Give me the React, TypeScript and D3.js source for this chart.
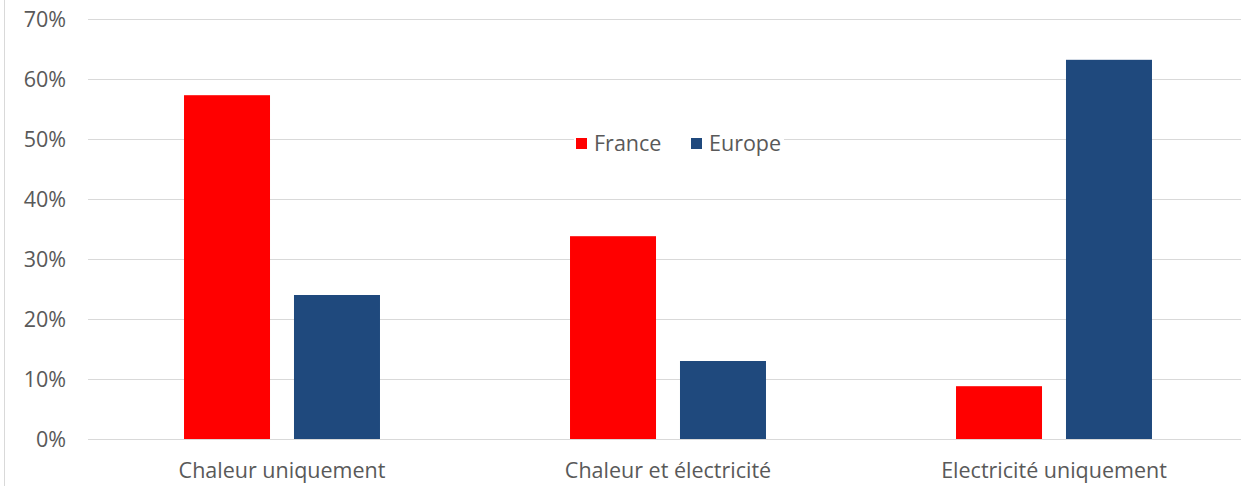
import React, { useEffect, useRef } from 'react';
import * as d3 from 'd3';

const categories = ['Chaleur uniquement', 'Chaleur et électricité', 'Electricité uniquement'];
const series = ['France', 'Europe'];
const franceValues = [0.573, 0.338, 0.088];
const europeValues = [0.24, 0.13, 0.632];
const yTicks = [0, 0.1, 0.2, 0.3, 0.4, 0.5, 0.6, 0.7];
const colors = ['#ff0000', '#1f497d'];

const W = 1241;
const H = 486;
const FONT = "Open Sans, 'Noto Sans', sans-serif";
const FS = '21.5px';

const App: React.FC = () => {
  const svgRef = useRef<SVGSVGElement>(null);

  useEffect(() => {
    if (!svgRef.current) return;
    const svg = d3.select(svgRef.current);
    svg.selectAll('*').remove();

    const left = 89;
    const right = 1247;
    const top = 19;
    const bottom = 439;

    const y = d3.scaleLinear().domain([0, 0.7]).range([bottom, top]);
    const x0 = d3.scaleBand<string>().domain(categories).range([left, right]).padding(0);
    const x1 = d3.scaleBand<string>()
      .domain(series)
      .range([0, x0.bandwidth()])
      .paddingInner(0.218)
      .paddingOuter(0.864);

    // frame line on the left
    svg.append('line')
      .attr('x1', 4.5).attr('x2', 4.5)
      .attr('y1', 0).attr('y2', H)
      .attr('stroke', '#d9d9d9');

    // gridlines
    svg.append('g')
      .selectAll('line')
      .data(yTicks)
      .join('line')
      .attr('x1', left - 1)
      .attr('x2', W)
      .attr('y1', d => Math.round(y(d)) + 0.5)
      .attr('y2', d => Math.round(y(d)) + 0.5)
      .attr('stroke', '#d9d9d9')
      .attr('stroke-width', 1);

    // y labels
    svg.append('g')
      .selectAll('text')
      .data(yTicks)
      .join('text')
      .attr('x', 66)
      .attr('y', d => y(d))
      .attr('dy', '0.35em')
      .attr('text-anchor', 'end')
      .attr('fill', '#595959')
      .style('font-family', FONT)
      .style('font-size', FS)
      .text(d => d3.format('.0%')(d));

    // bars
    const data = categories.map((c, i) => ({ cat: c, vals: [franceValues[i], europeValues[i]] }));
    const groups = svg.append('g')
      .selectAll('g')
      .data(data)
      .join('g')
      .attr('transform', d => `translate(${x0(d.cat)},0)`);

    groups.selectAll('rect')
      .data(d => d.vals.map((v, i) => ({ s: series[i], v, i })))
      .join('rect')
      .attr('x', d => x1(d.s)!)
      .attr('width', x1.bandwidth())
      .attr('y', d => y(d.v))
      .attr('height', d => bottom - y(d.v))
      .attr('fill', d => colors[d.i]);

    // x labels
    svg.append('g')
      .selectAll('text')
      .data(categories)
      .join('text')
      .attr('x', d => x0(d)! + x0.bandwidth() / 2)
      .attr('y', 470)
      .attr('dy', '0.35em')
      .attr('text-anchor', 'middle')
      .attr('fill', '#595959')
      .style('font-family', FONT)
      .style('font-size', FS)
      .text(d => d);

    // legend
    const legend = svg.append('g');
    legend.append('rect')
      .attr('x', 574).attr('y', 130)
      .attr('width', 210).attr('height', 24)
      .attr('fill', '#fff');
    const legendX = [576, 691];
    series.forEach((s, i) => {
      legend.append('rect')
        .attr('x', legendX[i]).attr('y', 138)
        .attr('width', 11).attr('height', 11)
        .attr('fill', colors[i]);
      legend.append('text')
        .attr('x', legendX[i] + 18)
        .attr('y', 143)
        .attr('dy', '0.35em')
        .attr('fill', '#595959')
        .style('font-family', FONT)
        .style('font-size', FS)
        .text(s);
    });
  }, []);

  return (
    <div style={{ position: 'absolute', left: 0, top: 0, background: '#fff' }}>
      <svg ref={svgRef} width={W} height={H} style={{ display: 'block' }}></svg>
    </div>
  );
};

export default App;
